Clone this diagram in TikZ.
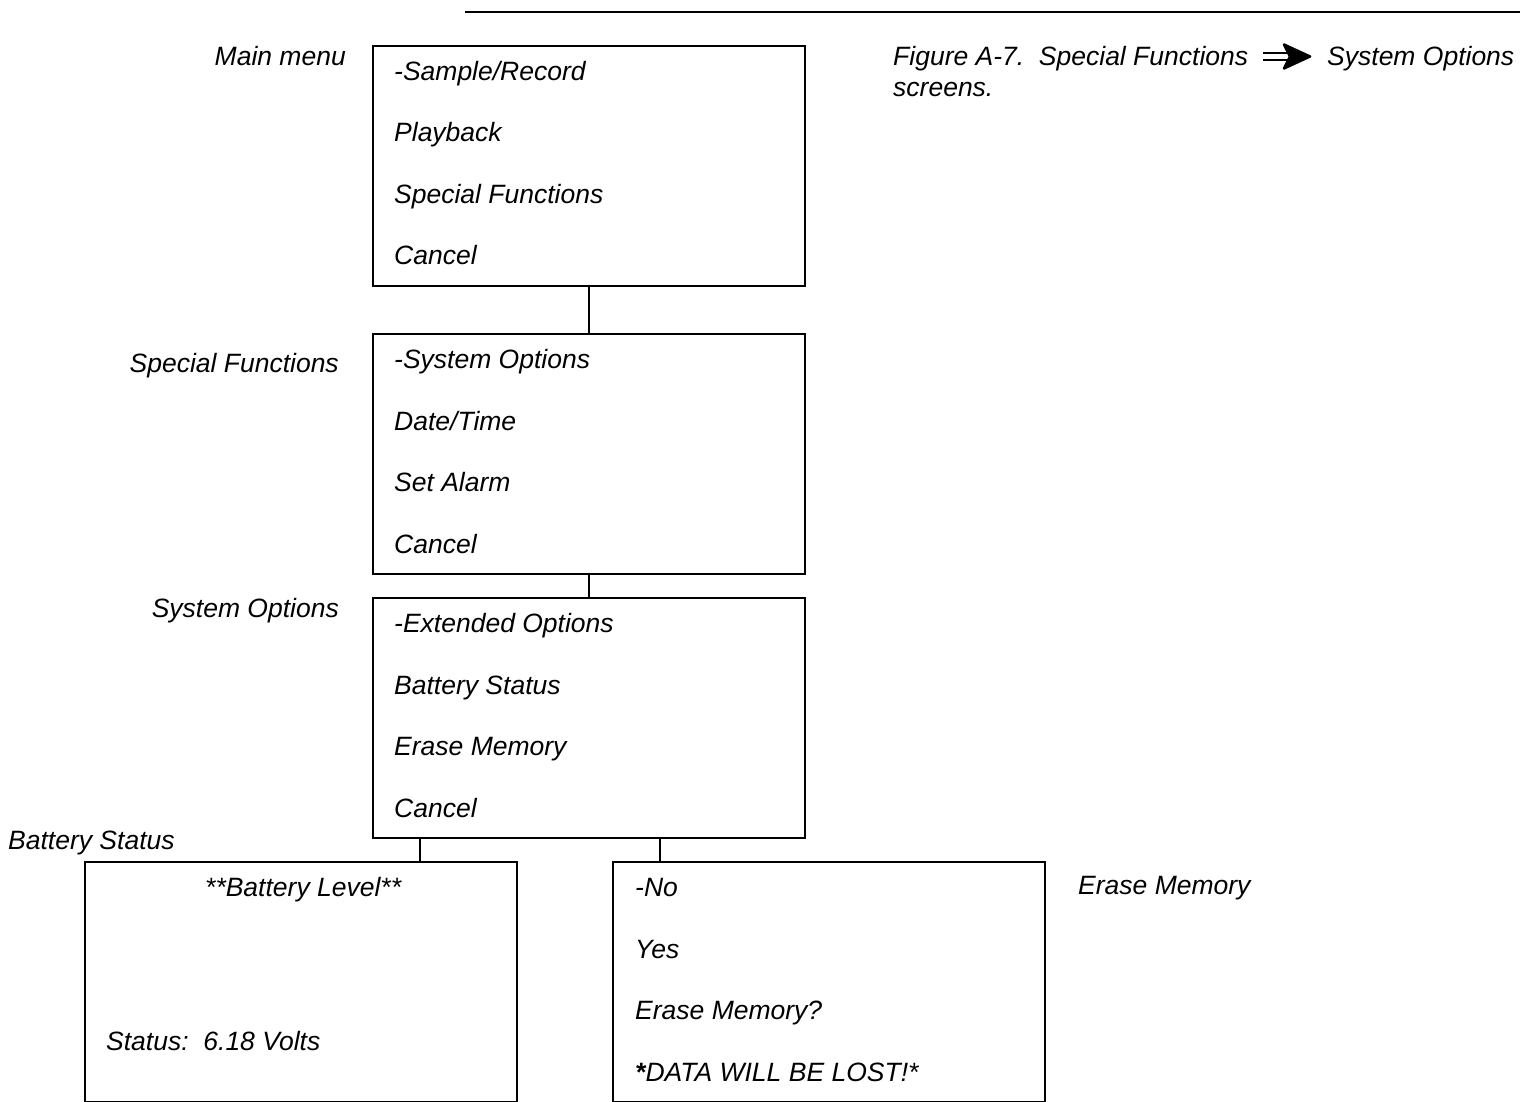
\documentclass[tikz,border=0pt]{standalone}
\usepackage{fontspec}
\setmainfont{Liberation Sans}
\usetikzlibrary{calc}
\begin{document}
\begin{tikzpicture}[x=1pt,y=-1pt,
  every node/.style={font=\fontsize{26.5}{32}\selectfont\itshape, inner sep=0pt},
  screen/.style={draw, line width=2.2pt, minimum width=432pt, minimum height=240pt, anchor=north west},
  txt/.style={anchor=base west},
  lbl/.style={anchor=base east},
  link/.style={line width=2.2pt}]
\useasboundingbox (0,0) rectangle (1534,1102);

% header rule
\draw[line width=2.2pt] (465,12) coordinate (ruleL) -- (1520,12) coordinate (ruleR);

% screens
\node[screen] (main)  at (372,45)  {};
\node[screen] (spec)  at (372,333) {};
\node[screen] (sys)   at (372,597) {};
\node[screen] (bat)   at (84,861)  {};
\node[screen] (erase) at (612,861) {};

% screen contents
\foreach \scr/\a/\b/\c/\d in {main/-Sample\slash Record/Playback/Special Functions/Cancel,
                              spec/-System Options/Date\slash Time/Set Alarm/Cancel,
                              sys/-Extended Options/Battery Status/Erase Memory/Cancel}{
  \node[txt] (\scr-1) at ([shift={(22,35.5)}]\scr.north west) {\a};
  \node[txt] (\scr-2) at ([shift={(22,97)}]\scr.north west) {\b};
  \node[txt] (\scr-3) at ([shift={(22,158.5)}]\scr.north west) {\c};
  \node[txt] (\scr-4) at ([shift={(22,220)}]\scr.north west) {\d};
}
\node[txt] (erase-1) at ([shift={(23,35.5)}]erase.north west) {-No};
\node[txt] (erase-2) at ([shift={(23,97)}]erase.north west) {Yes};
\node[txt] (erase-3) at ([shift={(23,158.5)}]erase.north west) {Erase Memory?};
\node[txt] (erase-4) at ([shift={(23,220)}]erase.north west) {{\bfseries *}DATA WILL BE LOST!*};

\node[txt] (bat-1) at ([shift={(121,35.5)}]bat.north west) {**Battery Level**};
\node[txt] (bat-2) at ([shift={(22,189.5)}]bat.north west) {Status:\ \ 6.18 Volts};

% screen titles
\node[lbl] (tmain) at (346,65.5)  {Main menu};
\node[lbl] (tspec) at (339,372.5) {Special Functions};
\node[lbl] (tsys)  at (339,617.5) {System Options};
\node[txt] (tbat)  at (8,849.5)   {Battery Status};
\node[txt] (terase) at (1078,894.5) {Erase Memory};

% caption with its double-shaft arrow
\node[txt] (cap1) at (893,65.5) {Figure A-7.\ \ Special Functions};
\node[txt] (cap2) at (1327,65.5) {System Options};
\node[txt] (cap3) at (893,96.5) {screens.};
\coordinate (arrA) at (1263,56.5);
\coordinate (arrB) at (1310,56.5);
\draw[line width=2.6pt] ([yshift=-3.4pt]arrA) -- ++(25,0);
\draw[line width=2.6pt] ([yshift=3.4pt]arrA) -- ++(25,0);
\filldraw[line width=2.5pt, line join=round] (arrB) -- ++(-26,-12) -- ++(6,12) -- ++(-6,12) -- cycle;

% connectors
\draw[link] (main.south) -- (spec.north);
\draw[link] (spec.south) -- (sys.north);
\draw[link] ([xshift=48pt]sys.south west) -- ([xshift=48pt]sys.south west |- bat.north);
\draw[link] ([xshift=48pt]erase.north west) -- ([xshift=48pt]erase.north west |- sys.south);
\end{tikzpicture}
\end{document}
